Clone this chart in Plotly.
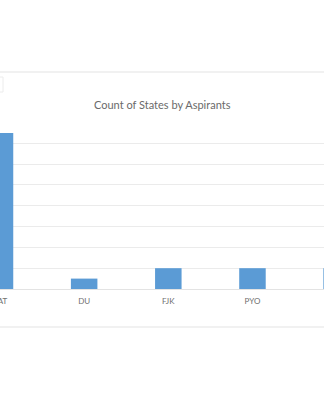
import plotly.graph_objects as go

categories = ["BAT", "DU", "FJK", "PYO", "RJS"]
counts = [15, 1, 2, 2, 2]
y_ticks = [0, 2, 4, 6, 8, 10, 12, 14, 16]
title = "Count of States by Aspirants"

W, H = 324, 400
top_px, bot_px = 122, 289
ph = bot_px - top_px

def py(pixel):
    return (bot_px - pixel) / ph

fig = go.Figure()
fig.add_trace(go.Bar(
    x=list(range(len(categories))), y=counts,
    marker=dict(color="#5B9BD5", line=dict(width=0)),
    width=0.315,
))

fig.update_layout(
    width=W, height=H,
    margin=dict(l=0, r=0, t=top_px, b=H - bot_px, autoexpand=False),
    paper_bgcolor="white", plot_bgcolor="white",
    showlegend=False,
    font=dict(family="Lato", color="#7a7a7a"),
    xaxis=dict(
        range=[0, 3.85],
        automargin=False,
        tickmode="array", tickvals=list(range(len(categories))), ticktext=categories,
        ticklabeloverflow="allow",
        showgrid=False, zeroline=False,
        showline=True, linecolor="#e3e3e3", linewidth=1,
        ticks="outside", ticklen=4, tickcolor="rgba(0,0,0,0)",
        tickfont=dict(size=8, color="#6f6f6f", family="Lato"),
    ),
    yaxis=dict(
        range=[0, 16.05],
        automargin=False,
        tickmode="array", tickvals=y_ticks,
        showticklabels=False,
        showgrid=True, gridcolor="#ebebeb", gridwidth=1,
        zeroline=False,
    ),
    shapes=[
        dict(type="line", xref="paper", yref="paper", x0=0, x1=1,
             y0=py(72), y1=py(72), line=dict(color="#e3e3e3", width=1)),
        dict(type="line", xref="paper", yref="paper", x0=0, x1=1,
             y0=py(327), y1=py(327), line=dict(color="#e3e3e3", width=1)),
        dict(type="rect", xref="paper", yref="paper", x0=-0.05, x1=3 / W,
             y0=py(92), y1=py(77), line=dict(color="#ececec", width=1),
             fillcolor="white"),
    ],
    annotations=[
        dict(text=title, xref="paper", yref="paper", x=162 / W, y=py(104.5),
             xanchor="center", yanchor="middle", showarrow=False,
             font=dict(family="Lato", size=11, color="#6a6a6a")),
    ],
)

fig.write_html("out.html")
